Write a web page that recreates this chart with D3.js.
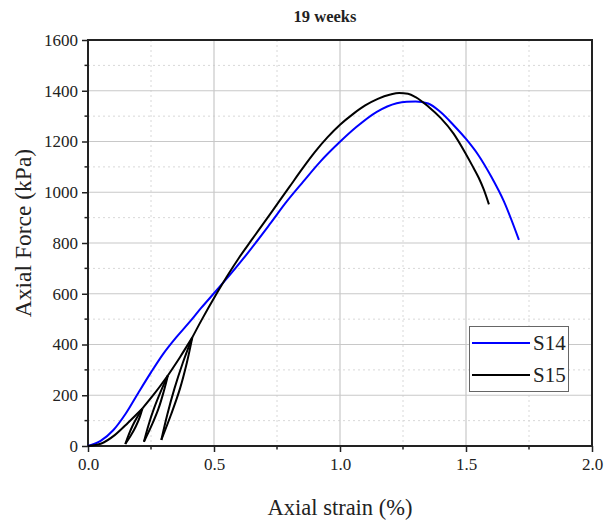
<!DOCTYPE html>
<html><head><meta charset="utf-8">
<script src="https://cdn.jsdelivr.net/npm/d3@7"></script>
<style>body{margin:0;background:#fff}svg{display:block}text{font-family:"Liberation Serif","DejaVu Serif",serif;fill:#222}</style>
</head><body><svg id="c" width="604" height="522"></svg>
<script>
const title = "19 weeks";
const xLabel = "Axial strain (%)";
const yLabel = "Axial Force (kPa)";
const xTicks = [0, 0.5, 1.0, 1.5, 2.0];
const yTicks = [0, 200, 400, 600, 800, 1000, 1200, 1400, 1600];
const seriesNames = ["S14", "S15"];
const seriesColors = ["#0000ff", "#000000"];

// S14: [strain %, force kPa]
const s14 = [[0,0],[0.05,20],[0.1,62],[0.15,128],[0.2,210],[0.25,290],[0.3,365],[0.35,428],
  [0.4,485],[0.45,545],[0.5,602],[0.563,674],[0.616,738],[0.722,875],[0.788,963],[0.854,1042],
  [0.921,1120],[1.0,1199],[1.066,1258],[1.146,1317],[1.225,1351],[1.265,1357],[1.3,1358],[1.35,1350],
  [1.4,1315],[1.45,1265],[1.5,1210],[1.55,1145],[1.6,1062],[1.65,965],[1.71,812]];

// S15 strokes (envelope and unload/reload loops)
const s15Start = [[0,0],[0.053,10],[0.106,43],[0.159,92],[0.216,148]];
const s15Unload1 = [[0.216,148],[0.205,113],[0.190,78],[0.171,43],[0.148,8]];
const s15Reload1 = [[0.148,8],[0.161,43],[0.176,78],[0.195,113],[0.216,148]];
const s15Env2 = [[0.216,148],[0.265,208],[0.317,278]];
const s15Unload2 = [[0.317,278],[0.300,213],[0.280,148],[0.253,82],[0.222,17]];
const s15Reload2 = [[0.222,17],[0.240,82],[0.262,148],[0.288,213],[0.317,278]];
const s15Env3 = [[0.317,278],[0.365,350],[0.414,428]];
const s15Unload3 = [[0.414,428],[0.392,327],[0.365,226],[0.330,125],[0.291,24]];
const s15Reload3 = [[0.291,24],[0.315,125],[0.343,226],[0.376,327],[0.414,428]];
const s15Main = [[0.414,428],[0.45,495],[0.51,600],[0.55,666],[0.6,743],[0.65,813],[0.7,882],[0.75,952],
  [0.8,1022],[0.85,1092],[0.9,1158],[0.95,1216],[1.0,1266],[1.05,1307],[1.1,1342],[1.15,1368],[1.2,1385],
  [1.235,1391],[1.27,1388],[1.3,1375],[1.35,1338],[1.4,1292],[1.45,1232],[1.5,1150],[1.525,1105],
  [1.55,1058],[1.57,1012],[1.591,952]];
const s15Monotone = [s15Start, s15Env2, s15Env3, s15Main];
const s15Loops = [s15Unload1, s15Reload1, s15Unload2, s15Reload2, s15Unload3, s15Reload3];

const svg = d3.select("#c");
const L = 88, R = 592, T = 40, B = 446;
const x = d3.scaleLinear().domain([0, 2]).range([L, R]);
const y = d3.scaleLinear().domain([0, 1600]).range([B, T]);

// grid
const minorX = d3.range(0.25, 2, 0.5);
const minorY = d3.range(100, 1600, 200);
const g = svg.append("g");
g.selectAll(".mx").data(minorX).join("line").attr("x1", d=>x(d)).attr("x2", d=>x(d)).attr("y1", T).attr("y2", B)
  .attr("stroke", "#d8d8d8").attr("stroke-dasharray", "2,3");
g.selectAll(".my").data(minorY).join("line").attr("y1", d=>y(d)).attr("y2", d=>y(d)).attr("x1", L).attr("x2", R)
  .attr("stroke", "#d8d8d8").attr("stroke-dasharray", "2,3");
g.selectAll(".gx").data(xTicks.slice(1, -1)).join("line").attr("x1", d=>x(d)).attr("x2", d=>x(d)).attr("y1", T).attr("y2", B)
  .attr("stroke", "#c8c8c8").attr("stroke-width", 1.2);
g.selectAll(".gy").data(yTicks.slice(1, -1)).join("line").attr("y1", d=>y(d)).attr("y2", d=>y(d)).attr("x1", L).attr("x2", R)
  .attr("stroke", "#c8c8c8").attr("stroke-width", 1.2);

// axes
const xAxis = d3.axisBottom(x).tickValues(xTicks).tickFormat(d3.format(".1f")).tickSize(6).tickPadding(6);
const yAxis = d3.axisLeft(y).tickValues(yTicks).tickFormat(d3.format("d")).tickSize(6).tickPadding(4);
const xa = svg.append("g").attr("transform", `translate(0,${B})`).call(xAxis);
const ya = svg.append("g").attr("transform", `translate(${L},0)`).call(yAxis);
[xa, ya].forEach(a => {
  a.select(".domain").remove();
  a.selectAll("line").attr("stroke", "#222").attr("stroke-width", 1.5);
  a.selectAll("text").style("font-size", "17px").style("font-family", '"Liberation Serif",serif').attr("fill", "#222");
});
xa.selectAll(".mt").data(minorX).join("line").attr("x1", d=>x(d)).attr("x2", d=>x(d)).attr("y1", 0).attr("y2", 3.5)
  .attr("stroke", "#222").attr("stroke-width", 1.5);
ya.selectAll(".mt").data(minorY).join("line").attr("y1", d=>y(d)).attr("y2", d=>y(d)).attr("x1", 0).attr("x2", -3.5)
  .attr("stroke", "#222").attr("stroke-width", 1.5);

// frame
svg.append("rect").attr("x", L).attr("y", T).attr("width", R - L).attr("height", B - T)
  .attr("fill", "none").attr("stroke", "#222").attr("stroke-width", 2);

// lines
const lineM = d3.line().x(d => x(d[0])).y(d => y(d[1])).curve(d3.curveMonotoneX);
const lineC = d3.line().x(d => x(d[0])).y(d => y(d[1])).curve(d3.curveCatmullRom.alpha(0.5));
svg.append("path").datum(s14).attr("d", lineM).attr("fill", "none").attr("stroke", seriesColors[0]).attr("stroke-width", 2);
const gs = svg.append("g").attr("fill", "none").attr("stroke", seriesColors[1]).attr("stroke-width", 2).attr("stroke-linejoin", "round");
gs.selectAll(".m").data(s15Monotone).join("path").attr("d", lineM);
gs.selectAll(".l").data(s15Loops).join("path").attr("d", lineC);

// labels
svg.append("text").attr("x", 325).attr("y", 22).attr("text-anchor", "middle").style("font-size", "16.5px").style("font-weight", "bold").text(title);
svg.append("text").attr("x", 340).attr("y", 515).attr("text-anchor", "middle").style("font-size", "22.5px").text(xLabel);
svg.append("text").attr("transform", "translate(31,233) rotate(-90)").attr("text-anchor", "middle").style("font-size", "23.5px").text(yLabel);

// legend
const lg = svg.append("g");
lg.append("rect").attr("x", 469.5).attr("y", 326.5).attr("width", 99).attr("height", 65).attr("fill", "#fff").attr("stroke", "#666").attr("stroke-width", 1);
seriesNames.forEach((n, i) => {
  const yy = 343 + i * 32;
  lg.append("line").attr("x1", 472).attr("x2", 530).attr("y1", yy).attr("y2", yy).attr("stroke", seriesColors[i]).attr("stroke-width", 2);
  lg.append("text").attr("x", 533).attr("y", yy + 7).style("font-size", "21px").text(n);
});
</script></body></html>
